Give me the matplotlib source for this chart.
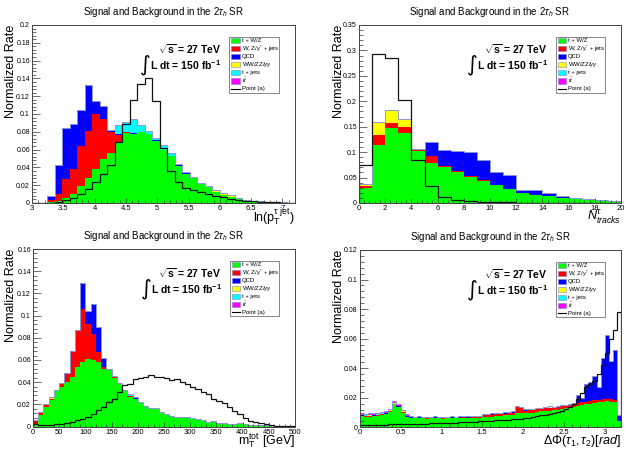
import numpy as np
import matplotlib
matplotlib.use('Agg')
import matplotlib.pyplot as plt
from matplotlib.patches import Rectangle
from matplotlib.ticker import MultipleLocator, FuncFormatter

plt.rcParams['font.family'] = ['Liberation Sans', 'DejaVu Sans']
plt.rcParams['mathtext.fontset'] = 'custom'
plt.rcParams['mathtext.rm'] = 'Liberation Sans'
plt.rcParams['mathtext.it'] = 'Liberation Sans:italic'
plt.rcParams['mathtext.bf'] = 'Liberation Sans:bold'

# ---------------- data ----------------
legend_labels = ['t + W/Z', r'W, Z/$\gamma^{*}$ + jets', 'QCD', r'WW/ZZ/$\gamma\gamma$',
                 't + jets', r'$t\bar{t}$', 'Point (a)']
layer_colors = ['#00ff00', '#ff0000', '#0000ff', '#ffff00', '#00ffff', '#ff00ff']

# Panel 1: ln(pT tau jet), 35 bins of 0.12 from 3.0
p1_green = [0, 0, 0.001, 0.0026, 0.0053, 0.010, 0.019, 0.028, 0.0386, 0.0495, 0.056, 0.068,
            0.079, 0.078, 0.080, 0.077, 0.070, 0.059, 0.053, 0.042, 0.033, 0.028, 0.021, 0.0175,
            0.0125, 0.009, 0.0064, 0.004, 0.003, 0.0025, 0.0018, 0.0012, 0.0008, 0.0005, 0.0002]
p1_red = [0, 0, 0.0024, 0.0072, 0.0217, 0.0286, 0.0456, 0.0525, 0.0612, 0.0445, 0.024, 0.008,
          0.0005, 0, 0, 0, 0, 0, 0, 0, 0, 0, 0, 0, 0, 0, 0, 0, 0, 0, 0, 0, 0, 0, 0]
p1_blue = [0, 0, 0.0046, 0.0332, 0.057, 0.0504, 0.0404, 0.0525, 0.0152, 0.0145, 0.002, 0.002,
           0.0003, 0.0003, 0.0003, 0.0003, 0.0003, 0.0003, 0.0003, 0.0003, 0.0003, 0.0003, 0.0003,
           0.0003, 0.0003, 0.0003, 0.0003, 0.0003, 0.0003, 0.0003, 0.0002, 0.0002, 0.0002, 0.0001, 0.0001]
p1_yellow = [0, 0, 0, 0, 0, 0, 0, 0, 0, 0, 0, 0, 0, 0, 0, 0, 0, 0, 0, 0, 0, 0, 0, 0.0003,
             0.001, 0.0024, 0.0024, 0.0018, 0.0005, 0, 0, 0, 0, 0, 0]
p1_cyan = [0, 0, 0, 0, 0, 0, 0, 0, 0, 0, 0, 0.010, 0.011, 0.016, 0.007, 0.004, 0.003, 0.006,
           0.0025, 0.001, 0.001, 0.001, 0.0015, 0.0008, 0.0003, 0, 0, 0, 0, 0, 0, 0, 0, 0, 0]
p1_magenta = [0] * 35
p1_signal = [0, 0, 0, 0.001, 0.003, 0.006, 0.010, 0.016, 0.024, 0.033, 0.043, 0.068, 0.089,
             0.116, 0.134, 0.140, 0.115, 0.062, 0.036, 0.024, 0.017, 0.015, 0.012, 0.010, 0.008,
             0.0064, 0.005, 0.0034, 0.0027, 0.002, 0.0015, 0.001, 0.0008, 0.0004, 0]

# Panel 2: N tracks, 20 bins of 1
p2_green = [0.029, 0.115, 0.148, 0.138, 0.102, 0.079, 0.070, 0.061, 0.052, 0.044, 0.035, 0.027,
            0.019, 0.016, 0.013, 0.009, 0.007, 0.005, 0.004, 0.003]
p2_red = [0.004, 0.018, 0.009, 0.012, 0.003, 0.013, 0.002, 0.001, 0.001, 0.0005, 0.0005, 0.0005,
          0.0005, 0, 0, 0, 0, 0, 0, 0]
p2_blue = [0, 0, 0, 0, 0.002, 0.028, 0.033, 0.041, 0.047, 0.040, 0.025, 0.027, 0.005, 0.008,
           0.005, 0.003, 0.002, 0.0015, 0.001, 0.0008]
p2_yellow = [0.004, 0.027, 0.026, 0.015, 0, 0, 0, 0, 0, 0, 0, 0, 0, 0, 0, 0, 0, 0, 0, 0]
p2_cyan = [0.001, 0, 0, 0, 0, 0, 0, 0, 0, 0, 0, 0, 0.002, 0.001, 0.001, 0.001, 0.001, 0.0005,
           0.0005, 0.0003]
p2_magenta = [0] * 20
p2_signal = [0.074, 0.292, 0.285, 0.203, 0.085, 0.034, 0.011, 0.005, 0.003, 0.002, 0.0015, 0.001,
             0.0008, 0.0005, 0.0004, 0.0003, 0.0002, 0.0001, 0.0001, 0.0]

# Panel 3: mT tot, 50 bins of 10 GeV
p3_green = [0.002, 0.010, 0.0175, 0.024, 0.0316, 0.0355, 0.040, 0.045, 0.0535, 0.058,
            0.061, 0.060, 0.058, 0.052, 0.0505, 0.044, 0.0385, 0.032, 0.027, 0.025,
            0.021, 0.018, 0.016, 0.016, 0.013, 0.011, 0.009, 0.008, 0.008, 0.008,
            0.007, 0.006, 0.005, 0.004, 0.0045, 0.003, 0.003, 0.0025, 0.002, 0.003,
            0.002, 0.0015, 0.001, 0.001, 0.0008, 0.0005, 0.0005, 0.0004, 0.0003, 0.0002]
p3_red = [0.003, 0.003, 0.0015, 0.001, 0, 0.0025, 0.0075, 0.0225, 0.0325, 0.048,
          0.031, 0.0236, 0.009, 0.002, 0.0005, 0.0005, 0.0003, 0.0003, 0.0002, 0.0002] + [0] * 30
p3_blue = [0, 0, 0, 0, 0, 0.0003, 0.0003, 0.0005, 0.0006, 0.0236,
           0.0117, 0.0271, 0.023, 0.007, 0.0004, 0.0003, 0.0003, 0.0003, 0.0002, 0.0002] + \
          [0.0002] * 26 + [0] * 4
p3_yellow = [0.0005, 0.0003, 0.0015, 0.0015, 0.0014, 0.0005] + [0] * 44
p3_cyan = [0] * 13 + [0.0003, 0.0004, 0.0005, 0.0004, 0.0006, 0.0015, 0.001, 0.0006, 0.0005,
                      0.0005, 0.0005] + [0.0003] * 12 + [0] * 14
p3_magenta = [0] * 50
p3_signal = [0.002, 0.0015, 0.0015, 0.0015, 0.0025, 0.0025, 0.003, 0.004, 0.0055, 0.007,
             0.009, 0.011, 0.0145, 0.0175, 0.022, 0.025, 0.031, 0.037, 0.0385, 0.043,
             0.044, 0.045, 0.046, 0.0445, 0.045, 0.044, 0.042, 0.043, 0.040, 0.038,
             0.036, 0.034, 0.031, 0.029, 0.025, 0.023, 0.021, 0.018, 0.014, 0.011,
             0.008, 0.005, 0.004, 0.003, 0.002, 0.001, 0.0005, 0.0003, 0.0002, 0.0001]

# Panel 4: delta phi, 64 bins of 0.05
p4_green = [0.0075, 0.0072, 0.0073, 0.0075, 0.0078, 0.0085, 0.0088, 0.0105, 0.0155, 0.0135, 0.0100, 0.0068,
            0.0062, 0.0060, 0.0062, 0.0060, 0.0058, 0.0060, 0.0062, 0.0060, 0.0058, 0.0060, 0.0062, 0.0060,
            0.0062, 0.0063, 0.0062, 0.0064, 0.0065, 0.0066,
            0.0068, 0.0070, 0.0072, 0.0075, 0.0078, 0.0080, 0.0082, 0.0085, 0.0095, 0.0098,
            0.0095, 0.0098, 0.0100, 0.0105, 0.0108, 0.0110, 0.0112, 0.0115, 0.0120, 0.0125,
            0.0130, 0.0138, 0.0140, 0.0145, 0.0150, 0.0155, 0.0160, 0.0165, 0.0170, 0.0172,
            0.0175, 0.0172, 0.0170, 0.0040]
p4_red = [0.0004] * 30 + [0.0012, 0.0010, 0.0014, 0.0012, 0.0010, 0.0013, 0.0015, 0.0014, 0.0040, 0.0030,
                         0.0018, 0.0016, 0.0018, 0.0020, 0.0017, 0.0018, 0.0020, 0.0016, 0.0018, 0.0017,
                         0.0012, 0.0012, 0.0012, 0.0018, 0.0018, 0.0018, 0.0018, 0.0018, 0.0018, 0.0018,
                         0.0018, 0.0018, 0.0018, 0.0005]
p4_blue = [0.0002] * 52 + [0.0008, 0.0047, 0.0022, 0.0117, 0.0122, 0.0157, 0.0082, 0.027,
                           0.0427, 0.025, 0.0332, 0.0035]
p4_yellow = [0.0001, 0.0001, 0.0003, 0.0001, 0.0001, 0.0001, 0.0001, 0.0003, 0.0001, 0.0001,
             0.0001, 0.0001, 0.0001, 0.0001, 0.0003, 0.0001, 0.0001, 0.0001, 0.0003, 0.0001,
             0.0001, 0.0001, 0.0003, 0.0001, 0.0001, 0.0001, 0.0001, 0.0003, 0.0001, 0.0001,
             0.0001, 0.0001, 0.0001, 0.0003, 0.0001, 0.0001, 0.0001, 0.0001, 0.0001, 0.0001,
             0.0001, 0.0003] + [0.0001] * 22
p4_cyan = [0.0004] * 52 + [0.0003] * 12
p4_magenta = [0.0009] * 12 + [0.0002] * 52
p4_signal = [0.0016, 0.0016, 0.0017, 0.0017, 0.0018, 0.0018, 0.0018, 0.0019, 0.0019, 0.0020, 0.0020,
             0.0021, 0.0022, 0.0022, 0.0023, 0.0024, 0.0025, 0.0026, 0.0027, 0.0028, 0.0029,
             0.0030, 0.0031, 0.0032, 0.0033, 0.0034, 0.0035, 0.0036, 0.0038, 0.0040, 0.0041,
             0.0043, 0.0045, 0.0047, 0.0049, 0.0050, 0.0052, 0.0054, 0.0056, 0.0058, 0.0062,
             0.0066, 0.0070, 0.0075, 0.0080, 0.0086, 0.0092, 0.0098, 0.0105, 0.0112, 0.0125,
             0.014, 0.016, 0.019, 0.023, 0.027, 0.029, 0.031, 0.036, 0.042, 0.050, 0.060, 0.066, 0.078]

panels = [
    dict(start=3.0, width=0.12, layers=[p1_green, p1_red, p1_blue, p1_yellow, p1_cyan, p1_magenta],
         signal=p1_signal, xlim=(3, 7.2), ylim=(0, 0.2), xmaj=0.5, xmin=0.1, ymaj=0.02, ymin=0.004,
         xlabel=r'$\mathrm{ln(p_{T}^{\tau\ jet})}$', rect=(32, 25, 295, 203), ylx=11.5),
    dict(start=0.0, width=1.0, layers=[p2_green, p2_red, p2_blue, p2_yellow, p2_cyan, p2_magenta],
         signal=p2_signal, xlim=(0, 20), ylim=(0, 0.35), xmaj=2, xmin=0.4, ymaj=0.05, ymin=0.01,
         xlabel=r'$N^{\tau}_{tracks}$', rect=(359, 25, 621, 203), ylx=339),
    dict(start=0.0, width=10.0, layers=[p3_green, p3_red, p3_blue, p3_yellow, p3_cyan, p3_magenta],
         signal=p3_signal, xlim=(0, 500), ylim=(0, 0.16), xmaj=50, xmin=10, ymaj=0.02, ymin=0.004,
         xlabel=r'$\mathrm{m_{T}^{tot}}$ [GeV]', rect=(33, 249, 295, 426.5), ylx=11.5),
    dict(start=0.0, width=0.05, layers=[p4_green, p4_red, p4_blue, p4_yellow, p4_cyan, p4_magenta],
         signal=p4_signal, xlim=(0, 3.2), ylim=(0, 0.12), xmaj=0.5, xmin=0.1, ymaj=0.02, ymin=0.004,
         xlabel=r'$\Delta\Phi(\tau_{1}, \tau_{2})[rad]$', rect=(359.7, 250, 621, 427.3), ylx=339),
]

W, H = 626, 449
fig = plt.figure(figsize=(W / 100, H / 100), dpi=100)

fmt = FuncFormatter(lambda v, p: ('%g' % round(v, 6)))

for P in panels:
    x0, y0, x1, y1 = P['rect']
    ax = fig.add_axes([x0 / W, 1 - y1 / H, (x1 - x0) / W, (y1 - y0) / H])
    n = len(P['signal'])
    edges = P['start'] + P['width'] * np.arange(n + 1)
    bottom = np.zeros(n)
    for vals, col in zip(P['layers'], layer_colors):
        v = np.asarray(vals, dtype=float)
        if v.sum() > 0:
            ax.stairs(bottom + v, edges, baseline=bottom.copy(), fill=True, color=col, lw=0)
        bottom = bottom + v
    ax.stairs(bottom, edges, color='#8f96d6', lw=0.7)
    ax.stairs(np.asarray(P['signal']), edges, color='#111111', lw=0.9)

    ax.set_xlim(*P['xlim'])
    ax.set_ylim(*P['ylim'])
    ax.xaxis.set_major_locator(MultipleLocator(P['xmaj']))
    ax.xaxis.set_minor_locator(MultipleLocator(P['xmin']))
    ax.yaxis.set_major_locator(MultipleLocator(P['ymaj']))
    ax.yaxis.set_minor_locator(MultipleLocator(P['ymin']))
    ax.xaxis.set_major_formatter(fmt)
    ax.yaxis.set_major_formatter(fmt)
    ax.tick_params(axis='both', which='both', direction='in', pad=1.5,
                   width=0.5, color='#333333')
    ax.tick_params(axis='x', labelsize=5.5)
    ax.tick_params(axis='y', labelsize=5)
    ax.tick_params(axis='y', which='major', length=5.5)
    ax.tick_params(axis='y', which='minor', length=2.8)
    ax.tick_params(axis='x', which='major', length=3.8)
    ax.tick_params(axis='x', which='minor', length=1.9)
    for s in ax.spines.values():
        s.set_linewidth(0.7)
        s.set_color('#444444')

    # title
    fig.text((x0 + x1) / 2 / W, 1 - (y0 - 13) / H, r'Signal and Background in the 2$\tau_{h}$ SR',
             ha='center', va='center', fontsize=7)
    # y label
    fig.text(P['ylx'] / W, 1 - y0 / H, 'Normalized Rate', rotation=90, ha='center', va='top',
             fontsize=9)
    # x label
    fig.text(x1 / W, 1 - (y1 + 14) / H, P['xlabel'], ha='right', va='center', fontsize=9)

    # annotations
    ax.text(0.72, 0.865, r'$\mathbf{\sqrt{s}}$ = 27 TeV', transform=ax.transAxes, ha='right',
            va='center', fontsize=7.5, fontweight='bold')
    ax.text(0.72, 0.775, r'L dt = 150 fb$^{\mathbf{-1}}$', transform=ax.transAxes, ha='right',
            va='center', fontsize=7.5, fontweight='bold')
    ax.text(0.432, 0.775, '\u222b', transform=ax.transAxes, ha='center', va='center',
            fontsize=15, family='DejaVu Sans')

    # legend box
    lx0, lx1, ly0, ly1 = 0.75, 0.94, 0.62, 0.935
    ax.add_patch(Rectangle((lx0, ly0), lx1 - lx0, ly1 - ly0, transform=ax.transAxes,
                           facecolor='white', edgecolor='#555555', lw=0.5, zorder=5))
    rh = (ly1 - ly0) / 7
    for i, lab in enumerate(legend_labels):
        yc = ly1 - rh * (i + 0.5)
        if i < 6:
            ax.add_patch(Rectangle((lx0 + 0.008, yc - rh * 0.36), 0.032, rh * 0.72,
                                   transform=ax.transAxes, facecolor=layer_colors[i],
                                   edgecolor='#7f86c8', lw=0.4, zorder=6))
        else:
            ax.plot([lx0 + 0.008, lx0 + 0.040], [yc, yc], transform=ax.transAxes,
                    color='black', lw=0.8, zorder=6)
        ax.text(lx0 + 0.047, yc, lab, transform=ax.transAxes, ha='left', va='center',
                fontsize=4.3, zorder=7)

fig.savefig('out.png', dpi=100)
